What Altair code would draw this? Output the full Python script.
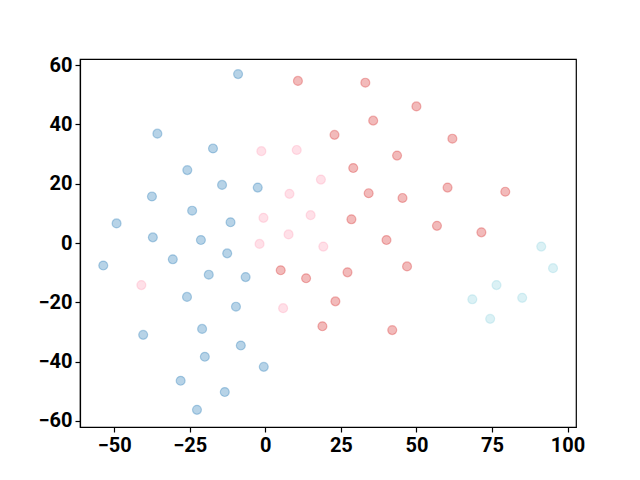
import altair as alt
import pandas as pd

blue_x = [-9.0, -35.7, -17.3, -25.8, -14.3, -37.5, -24.2, -49.2, -11.5, -37.2, -21.3,
          -12.6, -53.6, -30.6, -18.7, -6.5, -25.9, -9.7, -20.9, -40.4, -8.1, -20.0,
          -28.0, -13.4, -22.6, -2.5, -0.5]
blue_y = [57.0, 36.9, 31.9, 24.6, 19.6, 15.7, 10.9, 6.6, 7.0, 1.9, 1.0,
          -3.5, -7.6, -5.5, -10.7, -11.5, -18.2, -21.5, -29.0, -31.0, -34.6, -38.4,
          -46.5, -50.3, -56.3, 18.7, -41.8]

pink_x = [-41.0, -1.3, 10.4, 18.4, 8.0, -0.6, 15.0, 7.7, -1.9, 19.2, 5.9]
pink_y = [-14.2, 31.0, 31.4, 21.4, 16.6, 8.5, 9.4, 2.9, -0.3, -1.2, -22.0]

red_x = [10.8, 33.1, 35.7, 22.9, 43.6, 29.1, 34.2, 45.4, 28.5, 40.1, 46.9, 5.1,
         13.5, 27.2, 23.2, 18.9, 42.0, 50.0, 61.9, 60.3, 79.4, 56.8, 71.5]
red_y = [54.7, 54.1, 41.3, 36.5, 29.5, 25.3, 16.8, 15.2, 8.0, 1.0, -7.9, -9.2,
         -11.9, -9.9, -19.7, -28.1, -29.4, 46.1, 35.2, 18.7, 17.3, 5.8, 3.6]

cyan_x = [91.3, 95.2, 76.5, 68.5, 85.0, 74.4]
cyan_y = [-1.2, -8.5, -14.2, -19.0, -18.5, -25.6]

groups = ["blue", "pink", "red", "cyan"]
colors = ["#1f77b4", "#ff9fb8", "#d62728", "#8fd3e0"]

rows = []
for g, xs, ys in [("blue", blue_x, blue_y), ("pink", pink_x, pink_y),
                  ("red", red_x, red_y), ("cyan", cyan_x, cyan_y)]:
    for x, y in zip(xs, ys):
        rows.append({"x": x, "y": y, "group": g})
df = pd.DataFrame(rows)

axis_common = dict(
    grid=False, domain=True, domainColor="black", domainWidth=1.2,
    tickColor="black", tickSize=5, tickWidth=1.2,
    labelFont="Roboto", labelFontWeight=700, labelFontSize=20,
    labelColor="black", title=None, labelPadding=3,
)

chart = alt.Chart(df).mark_circle(
    size=80, fillOpacity=0.32, strokeOpacity=0.32, strokeWidth=1.2
).encode(
    x=alt.X("x:Q", scale=alt.Scale(domain=[-61.3, 102.8], nice=False, zero=False),
            axis=alt.Axis(values=[-50, -25, 0, 25, 50, 75, 100], **axis_common)),
    y=alt.Y("y:Q", scale=alt.Scale(domain=[-62.1, 62.1], nice=False, zero=False),
            axis=alt.Axis(values=[-60, -40, -20, 0, 20, 40, 60], **axis_common)),
    color=alt.Color("group:N", scale=alt.Scale(domain=groups, range=colors), legend=None),
    stroke=alt.Stroke("group:N", scale=alt.Scale(domain=groups, range=colors), legend=None),
).properties(
    width=496, height=368,
    autosize=alt.AutoSizeParams(type="none"),
    padding={"left": 72, "top": 51, "right": 50, "bottom": 40},
).configure_view(
    stroke="black", strokeWidth=1.2
)

chart.save("out.html", embed_options={"renderer": "svg", "actions": False})
